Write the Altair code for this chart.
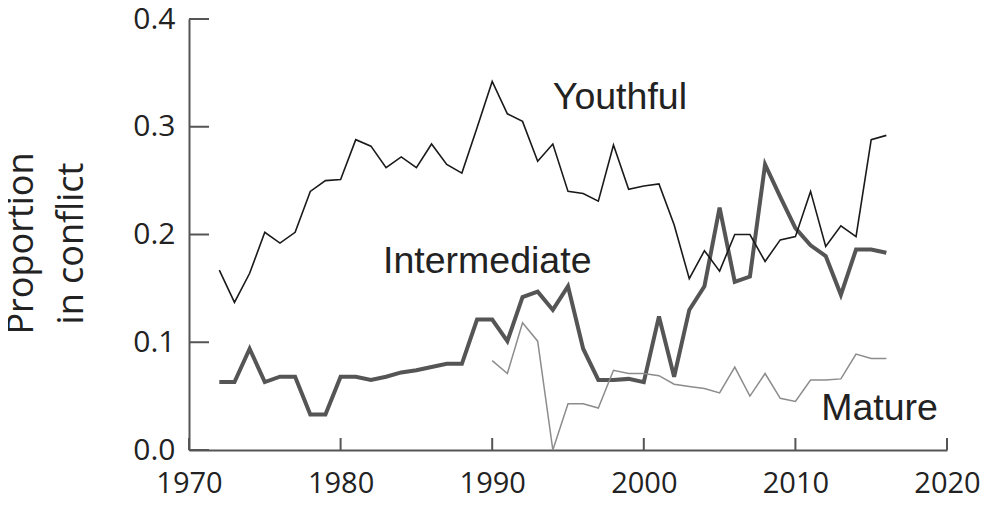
import altair as alt
import pandas as pd

# ---- data ----
years = list(range(1972, 2017))
youthful = [0.167, 0.137, 0.164, 0.202, 0.192, 0.202, 0.240, 0.250, 0.251, 0.288,
            0.282, 0.262, 0.272, 0.262, 0.284, 0.265, 0.257, 0.299, 0.342, 0.312,
            0.305, 0.268, 0.284, 0.240, 0.238, 0.231, 0.283, 0.242, 0.245, 0.247,
            0.209, 0.159, 0.185, 0.166, 0.200, 0.200, 0.175, 0.195, 0.198, 0.240,
            0.189, 0.208, 0.198, 0.288, 0.292]
intermediate = [0.063, 0.063, 0.094, 0.063, 0.068, 0.068, 0.033, 0.033, 0.068, 0.068,
                0.065, 0.068, 0.072, 0.074, 0.077, 0.080, 0.080, 0.121, 0.121, 0.101,
                0.142, 0.147, 0.130, 0.152, 0.094, 0.065, 0.065, 0.066, 0.063, 0.124,
                0.068, 0.130, 0.152, 0.225, 0.156, 0.161, 0.265, 0.235, 0.206, 0.190,
                0.180, 0.144, 0.186, 0.186, 0.183]
mature_years = list(range(1990, 2017))
mature = [0.083, 0.071, 0.118, 0.101, 0.000, 0.043, 0.043, 0.039, 0.074, 0.071,
          0.071, 0.069, 0.061, 0.059, 0.057, 0.053, 0.077, 0.050, 0.071, 0.048,
          0.045, 0.065, 0.065, 0.066, 0.089, 0.085, 0.085]

label_names = ["Youthful", "Intermediate", "Mature"]
label_x = [1994.0, 1982.8, 2011.7]
label_y = [0.3166, 0.1643, 0.0279]

x_ticks = [1970, 1980, 1990, 2000, 2010, 2020]
y_ticks = [0.0, 0.1, 0.2, 0.3, 0.4]
y_title = ["Proportion", "in conflict"]

# ---- tables ----
df_y = pd.DataFrame({"year": years, "value": youthful})
df_i = pd.DataFrame({"year": years, "value": intermediate})
df_m = pd.DataFrame({"year": mature_years, "value": mature})
df_lab = pd.DataFrame({"year": label_x, "value": label_y, "name": label_names})
df_xt = pd.DataFrame({"year": x_ticks})
df_yt = pd.DataFrame({"value": y_ticks})

W, H = 758, 431
AX = "#555555"
TXT = "#222222"

xscale = alt.Scale(domain=[1970, 2020], nice=False, zero=False)
yscale = alt.Scale(domain=[0, 0.4], nice=False, zero=False)

xaxis = alt.Axis(values=x_ticks, format="d", title=None, ticks=False, tickSize=0,
                 labelPadding=19, grid=False, domainColor=AX, domainWidth=2,
                 labelFont="Open Sans", labelFontSize=29, labelColor=TXT,
                 labelFlush=False, labelOverlap=False)
yaxis = alt.Axis(values=y_ticks, format=".1f", title=y_title, ticks=False, tickSize=0,
                 labelPadding=14, grid=False, domainColor=AX, domainWidth=2,
                 labelFont="Open Sans", labelFontSize=30, labelColor=TXT,
                 labelFlush=False, labelOverlap=False,
                 titleFont="Open Sans", titleFontSize=36, titleFontWeight="normal",
                 titleColor=TXT, titleAngle=270, titleBaseline="alphabetic",
                 titleAlign="center", titleX=-157, titleY=224, titleLineHeight=50)


def X():
    return alt.X("year:Q", scale=xscale, axis=xaxis)


def Y():
    return alt.Y("value:Q", scale=yscale, axis=yaxis)


line_i = alt.Chart(df_i).mark_line(color="#555555", strokeWidth=4).encode(x=X(), y=Y())
line_m = alt.Chart(df_m).mark_line(color="#8c8c8c", strokeWidth=1.5).encode(x=X(), y=Y())
line_y = alt.Chart(df_y).mark_line(color="#1a1a1a", strokeWidth=1.6).encode(x=X(), y=Y())

labels = alt.Chart(df_lab).mark_text(
    align="left", baseline="alphabetic", font="Liberation Sans", fontSize=37.5, color=TXT
).encode(x=X(), y=Y(), text="name:N")

ytick_rules = alt.Chart(df_yt).mark_rule(color=AX, strokeWidth=2).encode(
    y=Y(), x=alt.value(0), x2=alt.value(20))
xtick_rules = alt.Chart(df_xt).mark_rule(color=AX, strokeWidth=2).encode(
    x=X(), y=alt.value(H), y2=alt.value(H - 12))

chart = alt.layer(line_i, line_m, line_y, labels, ytick_rules, xtick_rules).properties(
    width=W, height=H,
    padding={"left": 181, "top": 11, "right": 34, "bottom": 50},
    autosize=alt.AutoSizeParams(type="none"),
).configure_view(stroke=None)

chart.save("out.html", embed_options={"renderer": "svg", "actions": False})
